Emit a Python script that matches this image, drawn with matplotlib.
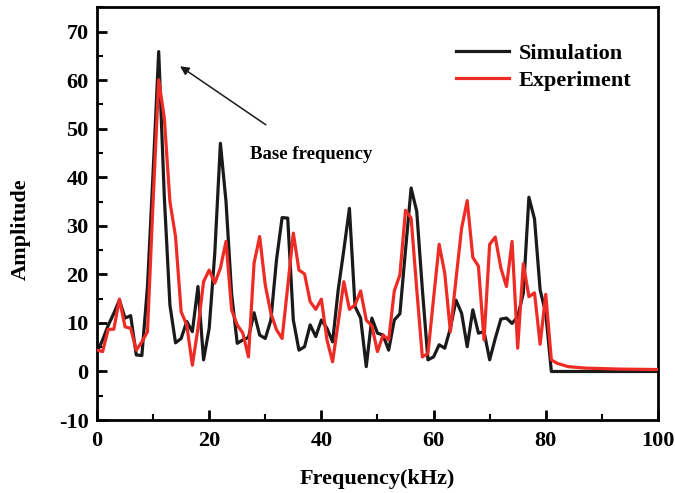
import matplotlib
matplotlib.use("Agg")
import matplotlib.pyplot as plt
from matplotlib.ticker import MultipleLocator

# frequency axis (kHz)
freq = [0, 1, 2, 3, 4, 5, 6, 7, 8, 9,
        10, 11, 12, 13, 14, 15, 16, 17, 18, 19,
        20, 21, 22, 23, 24, 25, 26, 27, 28, 29,
        30, 31, 32, 33, 34, 35, 36, 37, 38, 39,
        40, 41, 42, 43, 44, 45, 46, 47, 48, 49,
        50, 51, 52, 53, 54, 55, 56, 57, 58, 59,
        60, 61, 62, 63, 64, 65, 66, 67, 68, 69,
        70, 71, 72, 73, 74, 75, 76, 77, 78, 79,
        80, 81]

simulation = [4, 6.5, 9.5, 12, 14.7, 11, 11.5, 3.4, 3.3, 17.5,
              41, 65.9, 36, 13.7, 5.9, 6.8, 10.3, 8.2, 17.5, 2.4,
              8.9, 24.4, 47, 35, 16, 5.8, 6.5, 7.0, 12.1, 7.5,
              6.8, 10.6, 23, 31.7, 31.6, 10.6, 4.4, 5.1, 9.6, 7.2,
              10.6, 8.9, 6.1, 16.8, 25, 33.6, 13.4, 11, 1, 11,
              7.9, 7.5, 4.4, 10.6, 11.9, 25, 37.8, 33, 17, 2.4,
              3, 5.5, 4.8, 8.9, 14.7, 12, 5.1, 12.7, 7.9, 8.2,
              2.4, 6.8, 10.8, 11, 9.9, 11.3, 16.1, 35.9, 31.4, 16.8,
              12, 0]
sim_tail_freq = [81, 100]
sim_tail = [0, 0]

experiment = [4.4, 4.1, 8.7, 8.7, 14.9, 9.2, 8.9, 4.4, 6.1, 8.2,
              35, 60.1, 52.2, 35, 27.8, 12.3, 9.6, 1.3, 8.9, 18.5,
              20.9, 18.2, 21.3, 26.8, 12.7, 9.6, 7.9, 3, 22.3, 27.8,
              17.8, 12, 8.6, 6.8, 17.5, 28.5, 20.9, 20.1, 14.4, 12.8,
              14.9, 6.5, 2, 10, 18.5, 12.8, 13.7, 16.6, 10.6, 9.4,
              4.1, 7.5, 6.5, 16.6, 19.9, 33.2, 31.6, 17, 3, 3.7,
              15, 26.2, 20.2, 8.2, 19, 29.5, 35.2, 23.5, 21.7, 6.5,
              26.2, 27.7, 21.3, 17.5, 26.8, 4.8, 22.2, 15.4, 16.2, 5.6,
              15.9, 2.4]
exp_tail_freq = [81, 82, 84, 87, 93, 100]
exp_tail = [2.4, 1.7, 1.0, 0.7, 0.5, 0.4]

plt.rcParams['font.family'] = ['Liberation Serif', 'DejaVu Serif']
plt.rcParams['font.weight'] = 'bold'
plt.rcParams['axes.unicode_minus'] = False

fig = plt.figure(figsize=(6.75, 4.93), dpi=100)
ax = fig.add_axes([0.1437, 0.148, 0.831, 0.837])

ax.plot(freq + sim_tail_freq[1:], simulation + sim_tail[1:], color='#1a1a1a',
        lw=2.3, label='Simulation', zorder=2)
ax.plot(freq + exp_tail_freq[1:], experiment + exp_tail[1:], color='#ee2b24',
        lw=2.3, label='Experiment', zorder=3)

ax.set_xlim(0, 100)
ax.set_ylim(-10, 75)
ax.xaxis.set_major_locator(MultipleLocator(20))
ax.xaxis.set_minor_locator(MultipleLocator(10))
ax.yaxis.set_major_locator(MultipleLocator(10))
ax.yaxis.set_minor_locator(MultipleLocator(5))
ax.tick_params(which='major', direction='in', length=7, width=2, labelsize=16,
               top=False, right=False)
ax.tick_params(which='minor', direction='in', length=4, width=1.5,
               top=False, right=False)
ax.tick_params(axis='x', pad=8)
ax.tick_params(axis='y', pad=6)
for s in ax.spines.values():
    s.set_linewidth(2)

ax.set_xlabel('Frequency(kHz)', fontsize=16, fontweight='bold', labelpad=13)
ax.set_ylabel('Amplitude', fontsize=16, fontweight='bold')
ax.yaxis.set_label_coords(-0.118, 0.4625)

ax.annotate('', xy=(14.4, 63.2), xytext=(30.5, 50.5),
            arrowprops=dict(arrowstyle='-|>', color='#1a1a1a', lw=1.1,
                            mutation_scale=13))
ax.text(38.2, 44.8, 'Base frequency', fontsize=13.5, fontweight='bold',
        ha='center', va='center')

leg = ax.legend(loc='upper right', frameon=False, fontsize=16,
                handlelength=2.4, handletextpad=0.45, borderaxespad=0.4,
                labelspacing=0.3, bbox_to_anchor=(0.985, 0.956))
for t in leg.get_texts():
    t.set_fontweight('bold')

fig.savefig('out.png', dpi=100)
